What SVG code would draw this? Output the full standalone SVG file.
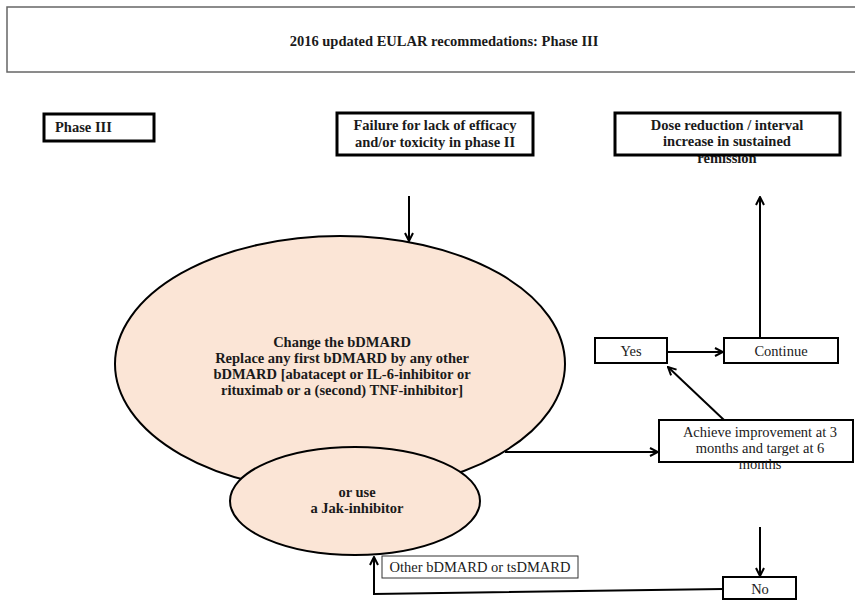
<svg xmlns="http://www.w3.org/2000/svg" width="855" height="601" viewBox="0 0 855 601">
<defs>
<marker id="ah" viewBox="0 0 10 10" refX="9" refY="5" markerWidth="10" markerHeight="10" markerUnits="userSpaceOnUse" orient="auto">
<path d="M1,1 L9,5 L1,9" fill="none" stroke="#000" stroke-width="2"/>
</marker>
<style>
.b{font-family:"Liberation Serif","Times New Roman",serif;font-weight:bold;font-size:14.5px;fill:#1a1a1a;text-anchor:middle}
.r{font-family:"Liberation Serif","Times New Roman",serif;font-size:14.5px;fill:#1a1a1a;text-anchor:middle}
.thick{fill:#fff;stroke:#000;stroke-width:3}
.med{fill:#fff;stroke:#000;stroke-width:2}
.thin{fill:#fff;stroke:#333;stroke-width:1}
.ell{fill:#fbe5d6;stroke:#000;stroke-width:2}
.con{fill:none;stroke:#000;stroke-width:2}
</style>
</defs>
<rect width="855" height="601" fill="#fff"/>
<g id="title">
<rect x="7" y="7" width="860" height="65" fill="#fff" stroke="#666" stroke-width="1.5"/>
<text class="b" x="444" y="46">2016 updated EULAR recommedations: Phase III</text>
</g>
<g id="phase3">
<rect class="thick" x="44" y="114" width="110" height="27"/>
<text class="b" x="55" y="132" style="text-anchor:start">Phase III</text>
</g>
<g id="failure">
<rect class="thick" x="337" y="113" width="196" height="42"/>
<text class="b" x="435" y="130">Failure for lack of efficacy</text>
<text class="b" x="435" y="147">and/or toxicity in phase II</text>
</g>
<g id="dose">
<text class="b" x="727" y="163">remission</text>
<rect class="thick" x="615" y="113" width="225" height="42"/>
<text class="b" x="727" y="130">Dose reduction / interval</text>
<text class="b" x="727" y="146">increase in sustained</text>
</g>
<g id="change">
<ellipse class="ell" cx="340" cy="364" rx="225" ry="128"/>
<text class="b" x="342" y="347">Change the bDMARD</text>
<text class="b" x="342" y="363">Replace any first bDMARD by any other</text>
<text class="b" x="342" y="379">bDMARD [abatacept or IL-6-inhibitor or</text>
<text class="b" x="342" y="395">rituximab or a (second) TNF-inhibitor]</text>
</g>
<g id="jak">
<ellipse class="ell" cx="355" cy="501" rx="125" ry="54"/>
<text class="b" x="357" y="497">or use</text>
<text class="b" x="357" y="513">a Jak-inhibitor</text>
</g>
<g id="other">
<rect class="thin" x="382" y="556" width="196" height="22"/>
<text class="r" x="480" y="572">Other bDMARD or tsDMARD</text>
</g>
<g id="yes">
<rect class="med" x="595" y="338" width="72" height="25"/>
<text class="r" x="631" y="356">Yes</text>
</g>
<g id="continue">
<rect class="med" x="724" y="338" width="114" height="25"/>
<text class="r" x="781" y="356">Continue</text>
</g>
<g id="achieve">
<rect class="med" x="659" y="420" width="194" height="42"/>
<text class="r" x="760" y="437">Achieve improvement at 3</text>
<text class="r" x="760" y="453">months and target at 6</text>
<text class="r" x="760" y="469">months</text>
</g>
<g id="no">
<rect class="med" x="723" y="577" width="73" height="22"/>
<text class="r" x="760" y="594">No</text>
</g>
<g id="connectors">
<line class="con" x1="409" y1="196" x2="409" y2="241" marker-end="url(#ah)"/>
<line class="con" x1="760" y1="338" x2="760" y2="197" marker-end="url(#ah)"/>
<line class="con" x1="667" y1="352" x2="723" y2="352" marker-end="url(#ah)"/>
<line class="con" x1="724" y1="420" x2="668" y2="367" marker-end="url(#ah)"/>
<line class="con" x1="505" y1="452" x2="658" y2="452" marker-end="url(#ah)"/>
<line class="con" x1="760" y1="527" x2="760" y2="576" marker-end="url(#ah)"/>
<polyline class="con" points="723,589 374,594 374,557" marker-end="url(#ah)"/>
</g>
</svg>
